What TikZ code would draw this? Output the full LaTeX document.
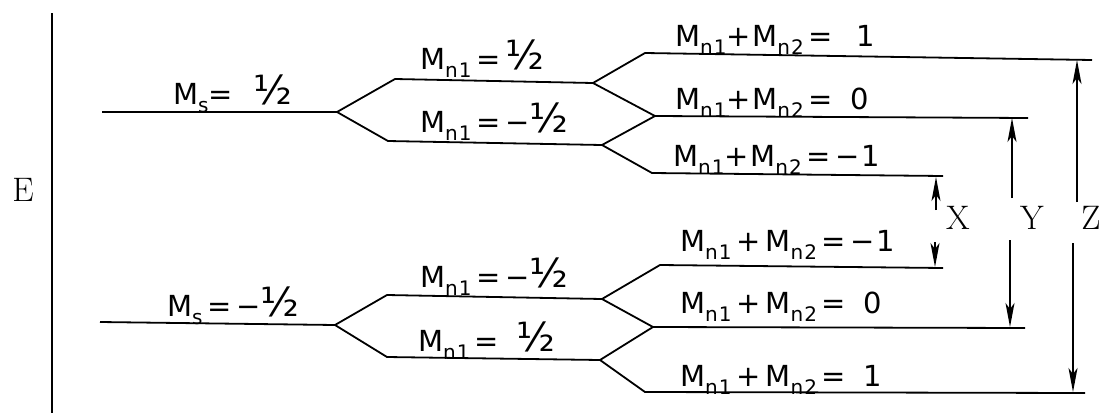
\documentclass[tikz,border=0pt]{standalone}
\usepackage{fontspec}
\newfontfamily\hand[LetterSpace=5]{DejaVu Sans}
\usetikzlibrary{arrows.meta}
\tikzset{
  level/.style={line width=1.8pt},
  lab/.style={anchor=base west, inner sep=0pt, font=\hand\fontsize{29}{31}\selectfont},
  gap/.style={line width=1.6pt, -{Stealth[length=24pt,width=9pt,inset=6pt]}},
  big/.style={inner sep=0pt, font=\fontsize{34}{36}\selectfont}
}
\newcommand{\sub}[1]{\raisebox{-0.3em}{\fontsize{20}{21}\selectfont #1}}
\newcommand{\half}{{\fontsize{40}{40}\selectfont ½}}
\begin{document}
\begin{tikzpicture}[x=1pt,y=-1pt]
\useasboundingbox (0,0) rectangle (1104,413);
% axis
\coordinate (ax1) at (52,13);
\coordinate (ax2) at (52,413);
\draw[line width=1.6pt] (ax1) -- (ax2);
\node[big] (E) at (23,190) {E};
% upper half coordinates
\coordinate (a1) at (102,112);
\coordinate (a2) at (337,112);
\coordinate (b1u) at (395,79);
\coordinate (b2u) at (593,83);
\coordinate (b1l) at (388,141);
\coordinate (b2l) at (602,145);
\coordinate (c1t) at (645,53);
\coordinate (c2t) at (1092,60);
\coordinate (c1m) at (655,116);
\coordinate (c2m) at (1028,118);
\coordinate (c1b) at (652,173);
\coordinate (c2b) at (943,176);
\draw[level] (a1) -- (a2);
\draw[level] (b2u) -- (b1u) -- (a2) -- (b1l) -- (b2l);
\draw[level] (c2t) -- (c1t) -- (b2u) -- (c1m) -- (c2m);
\draw[level] (c1m) -- (b2l) -- (c1b) -- (c2b);
% lower half coordinates
\coordinate (d1) at (100,322);
\coordinate (d2) at (335,325);
\coordinate (e1u) at (387,295);
\coordinate (e2u) at (602,299);
\coordinate (e1l) at (387,357);
\coordinate (e2l) at (600,360);
\coordinate (f1t) at (660,265);
\coordinate (f2t) at (943,268);
\coordinate (f1m) at (653,327);
\coordinate (f2m) at (1025,328);
\coordinate (f1b) at (645,392);
\coordinate (f2b) at (1085,393);
\draw[level] (d1) -- (d2);
\draw[level] (e2u) -- (e1u) -- (d2) -- (e1l) -- (e2l);
\draw[level] (f2t) -- (f1t) -- (e2u) -- (f1m) -- (f2m);
\draw[level] (f1m) -- (e2l) -- (f1b) -- (f2b);
% labels upper
\node[lab] (ms1) at (173,104) {M\sub{s}=\hspace{0.7em}\half};
\node[lab] (n1a) at (420,69) {M\sub{n1}\,=\,\half};
\node[lab] (n1b) at (420,132) {M\sub{n1}\,=\,−\half};
\node[lab] (s1) at (675,46) {M\sub{n1}+M\sub{n2}\,=\hspace{0.8em}1};
\node[lab] (s0) at (675,109) {M\sub{n1}+M\sub{n2}\,=\hspace{0.6em}0};
\node[lab] (sm1) at (673,166) {M\sub{n1}+M\sub{n2}\,=\,−1};
% labels lower
\node[lab] (ms2) at (167,316) {M\sub{s}\,=\,−\half};
\node[lab] (n1c) at (420,287) {M\sub{n1}\,=\,−\half};
\node[lab] (n1d) at (418,351) {M\sub{n1}\,=\hspace{0.6em}\half};
\node[lab] (t1) at (680,251) {M\sub{n1}\,+\,M\sub{n2}\,=\,−1};
\node[lab] (t0) at (680,313) {M\sub{n1}\,+\,M\sub{n2}\,=\hspace{0.6em}0};
\node[lab] (tp1) at (680,386) {M\sub{n1}\,+\,M\sub{n2}\,=\hspace{0.6em}1};
% gap letters
\node[big] (X) at (958,218) {X};
\node[big] (Y) at (1032,218) {Y};
\node[big] (Z) at (1091,218) {Z};
% arrows
\coordinate (xu) at (936,210);
\coordinate (xd) at (935,242);
\coordinate (yu) at (1012,198);
\coordinate (yd) at (1010,240);
\coordinate (zu) at (1077,202);
\coordinate (zd) at (1073,243);
\draw[gap] (xu) -- (936,177);
\draw[gap] (xd) -- (935,267);
\draw[gap] (yu) -- (1012,118);
\draw[gap] (yd) -- (1010,327);
\draw[gap] (zu) -- (1077,60);
\draw[gap] (zd) -- (1073,392);
\end{tikzpicture}
\end{document}
